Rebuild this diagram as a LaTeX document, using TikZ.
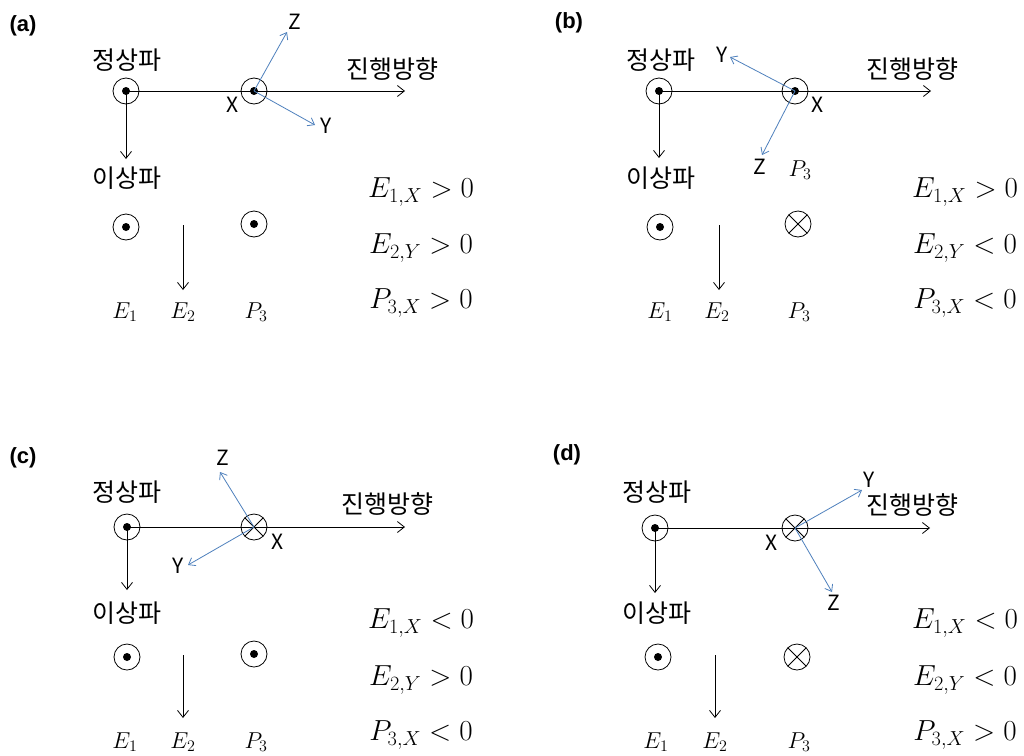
\RequirePackage{fix-cm}
\documentclass[tikz,border=0pt]{standalone}
\usepackage{fontspec}
\setmainfont{Liberation Sans}
\newfontfamily\kr{Noto Sans CJK KR}
\usetikzlibrary{arrows.meta}
\definecolor{axblue}{RGB}{79,129,189}
\begin{document}
\begin{tikzpicture}[x=1pt,y=-1pt,
  kor/.style={font=\kr\fontsize{25}{29}\selectfont, inner sep=0pt},
  axl/.style={font=\kr\fontsize{21}{25}\selectfont, inner sep=0pt},
  plabel/.style={font=\fontsize{22}{26}\selectfont\bfseries, inner sep=0pt},
  mlab/.style={font=\fontsize{23}{27}\selectfont, inner sep=0pt},
  eqn/.style={font=\fontsize{29}{33}\selectfont, inner sep=0pt},
  blk/.style={draw=black, line width=0.8pt, -{Straight Barb[length=7pt,width=11pt]}},
  bl/.style={draw=axblue, line width=0.8pt, -{Straight Barb[length=6pt,width=9pt]}},
  odot/.style={circle, draw, line width=0.8pt, minimum size=26pt, inner sep=0pt,
    path picture={\fill (path picture bounding box.center) circle (4pt);}},
  otimes/.style={circle, draw, line width=0.8pt, minimum size=26pt, inner sep=0pt,
    path picture={\draw[line width=0.8pt] (path picture bounding box.north west) -- (path picture bounding box.south east)
      (path picture bounding box.north east) -- (path picture bounding box.south west);}}
]
\useasboundingbox (0,0) rectangle (1024,755);
\fill[white] (0,0) rectangle (1024,755);

% ---------------- (a)
\node[plabel] (la) at (23,26) {(a)};
\node[kor] (ta1) at (127,60) {정상파};
\node[odot] (a1) at (126,91) {};
\node[odot] (a2) at (254,91) {};
\coordinate (aend) at (405,91);
\draw[blk] (a1.center) -- (aend);
\node[kor] (ta2) at (392,69) {진행방향};
\node[axl] (aX) at (233,105) {X};
\coordinate (aZe) at (287,32);
\draw[bl] (a2.center) -- (aZe);
\node[axl] (aZ) at (295,22) {Z};
\coordinate (aYe) at (315,125);
\draw[bl] (a2.center) -- (aYe);
\node[axl] (aY) at (326,126) {Y};
\coordinate (adn) at (126,159);
\draw[blk] (a1.center) -- (adn);
\node[kor] (ta3) at (127,178) {이상파};
\node[odot] (a3) at (126,227) {};
\node[odot] (a4) at (254,224) {};
\coordinate (ae2s) at (183,225);
\coordinate (ae2e) at (183,290);
\draw[blk] (ae2s) -- (ae2e);
\node[mlab] (aE1) at (125,312) {$E_1$};
\node[mlab] (aE2) at (183,312) {$E_2$};
\node[mlab] (aP3) at (256,312) {$P_3$};
\node[eqn] (aq1) at (421,192) {$E_{1,X} > 0$};
\node[eqn] (aq2) at (421,248) {$E_{2,Y} > 0$};
\node[eqn] (aq3) at (421,303) {$P_{3,X} > 0$};

% ---------------- (b)
\node[plabel] (lb) at (569,23) {(b)};
\node[kor] (tb1) at (661,60) {정상파};
\node[odot] (b1) at (659,91) {};
\node[odot] (b2) at (795,91) {};
\coordinate (bend) at (931,91);
\draw[blk] (b1.center) -- (bend);
\node[kor] (tb2) at (912,69) {진행방향};
\node[axl] (bX) at (818,105) {X};
\coordinate (bYe) at (730,57);
\draw[bl] (b2.center) -- (bYe);
\node[axl] (bY) at (722,55) {Y};
\coordinate (bZe) at (762,155);
\draw[bl] (b2.center) -- (bZe);
\node[axl] (bZ) at (760,167) {Z};
\node[mlab] (bP3a) at (800,170) {$P_3$};
\coordinate (bdn) at (659,158);
\draw[blk] (b1.center) -- (bdn);
\node[kor] (tb3) at (661,178) {이상파};
\node[odot] (b3) at (660,227) {};
\node[otimes] (b4) at (798,224) {};
\coordinate (be2s) at (719,225);
\coordinate (be2e) at (719,290);
\draw[blk] (be2s) -- (be2e);
\node[mlab] (bE1) at (660,312) {$E_1$};
\node[mlab] (bE2) at (717,312) {$E_2$};
\node[mlab] (bP3) at (799,312) {$P_3$};
\node[eqn] (bq1) at (965,192) {$E_{1,X} > 0$};
\node[eqn] (bq2) at (965,248) {$E_{2,Y} < 0$};
\node[eqn] (bq3) at (965,303) {$P_{3,X} < 0$};

% ---------------- (c)
\node[plabel] (lc) at (23,458) {(c)};
\node[kor] (tc1) at (127,492) {정상파};
\node[odot] (c1) at (127,527) {};
\node[otimes] (c2) at (254,527) {};
\coordinate (cend) at (405,527);
\draw[blk] (c1.center) -- (cend);
\node[kor] (tc2) at (387,504) {진행방향};
\node[axl] (cX) at (278,542) {X};
\coordinate (cZe) at (220,472);
\draw[bl] (c2.center) -- (cZe);
\node[axl] (cZ) at (223,458) {Z};
\coordinate (cYe) at (188,565);
\draw[bl] (c2.center) -- (cYe);
\node[axl] (cY) at (178,566) {Y};
\coordinate (cdn) at (127,590);
\draw[blk] (c1.center) -- (cdn);
\node[kor] (tc3) at (127,613) {이상파};
\node[odot] (c3) at (127,657) {};
\node[odot] (c4) at (254,654) {};
\coordinate (ce2s) at (183,655);
\coordinate (ce2e) at (183,718);
\draw[blk] (ce2s) -- (ce2e);
\node[mlab] (cE1) at (125,742) {$E_1$};
\node[mlab] (cE2) at (183,742) {$E_2$};
\node[mlab] (cP3) at (256,742) {$P_3$};
\node[eqn] (cq1) at (421,623) {$E_{1,X} < 0$};
\node[eqn] (cq2) at (421,680) {$E_{2,Y} > 0$};
\node[eqn] (cq3) at (421,735) {$P_{3,X} < 0$};

% ---------------- (d)
\node[plabel] (ld) at (567,455) {(d)};
\node[kor] (td1) at (657,492) {정상파};
\node[odot] (d1) at (655,528) {};
\node[otimes] (d2) at (795,528) {};
\coordinate (dend) at (930,528);
\draw[blk] (d1.center) -- (dend);
\node[kor] (td2) at (912,505) {진행방향};
\node[axl] (dX) at (772,543) {X};
\coordinate (dYe) at (862,490);
\draw[bl] (d2.center) -- (dYe);
\node[axl] (dY) at (869,480) {Y};
\coordinate (dZe) at (832,592);
\draw[bl] (d2.center) -- (dZe);
\node[axl] (dZ) at (834,603) {Z};
\coordinate (ddn) at (655,593);
\draw[blk] (d1.center) -- (ddn);
\node[kor] (td3) at (657,613) {이상파};
\node[odot] (d3) at (658,657) {};
\node[otimes] (d4) at (797,657) {};
\coordinate (de2s) at (715,655);
\coordinate (de2e) at (715,718);
\draw[blk] (de2s) -- (de2e);
\node[mlab] (dE1) at (656,742) {$E_1$};
\node[mlab] (dE2) at (715,742) {$E_2$};
\node[mlab] (dP3) at (799,742) {$P_3$};
\node[eqn] (dq1) at (965,623) {$E_{1,X} < 0$};
\node[eqn] (dq2) at (965,680) {$E_{2,Y} < 0$};
\node[eqn] (dq3) at (965,735) {$P_{3,X} > 0$};
\end{tikzpicture}
\end{document}
